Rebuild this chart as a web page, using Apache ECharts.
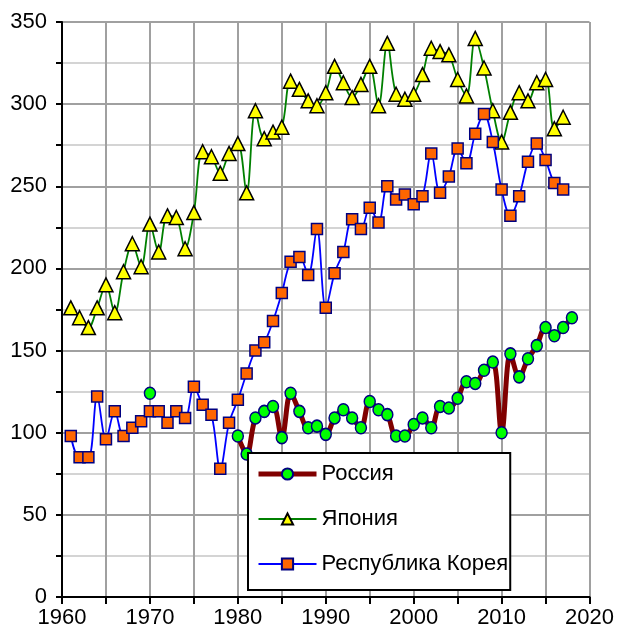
<!DOCTYPE html>
<html>
<head>
<meta charset="utf-8">
<script src="https://cdn.jsdelivr.net/npm/echarts@6/dist/echarts.min.js"></script>
<style>
html,body{margin:0;padding:0;background:#fff;}
#chart{width:617px;height:634px;}
</style>
</head>
<body>
<div id="chart"></div>
<script>
// Series names (legend order)
const seriesNames = ['Россия', 'Япония', 'Республика Корея'];

// Russia: 1970, gap 1971-1979, then 1980-2018
const russiaStartYear = 1970;
const russiaValues = [124, null, null, null, null, null, null, null, null, null,
  98, 87, 109, 113, 116, 97, 124, 113, 103, 104,
  99, 109, 114, 109, 103, 119, 114, 111, 98, 98,
  105, 109, 103, 116, 115, 121, 131, 130, 138, 143,
  100, 148, 134, 145, 153, 164, 159, 164, 170];

// Japan: 1961-2017
const japanStartYear = 1961;
const japanValues = [176, 170, 164, 176, 190, 173, 198, 215, 201,
  227, 210, 232, 231, 212, 234, 271, 268, 258, 270,
  276, 246, 296, 279, 283, 286, 314, 309, 302, 299,
  307, 323, 313, 304, 312, 323, 299, 337, 306, 303,
  306, 318, 334, 332, 330, 315, 305, 340, 322, 296,
  277, 295, 307, 302, 313, 315, 285, 292];

// Republic of Korea: 1961-2017
const koreaStartYear = 1961;
const koreaValues = [98, 85, 85, 122, 96, 113, 98, 103, 107,
  113, 113, 106, 113, 109, 128, 117, 111, 78, 106,
  120, 136, 150, 155, 168, 185, 204, 207, 196, 224,
  176, 197, 210, 230, 224, 237, 228, 250, 242, 245,
  239, 244, 270, 246, 256, 273, 264, 282, 294, 277,
  248, 232, 244, 265, 276, 266, 252, 248];

// Axis ranges / ticks
const xMin = 1960, xMax = 2020, xStep = 5, xLabelStep = 10;
const yMin = 0, yMax = 350, yStep = 25, yLabelStep = 50;

function toPairs(start, vals) {
  return vals.map((v, i) => [start + i, v === null ? '-' : v]);
}

const FONT = "'Liberation Sans', Arial, sans-serif";
const chart = echarts.init(document.getElementById('chart'), null, {renderer: 'canvas'});

const option = {
  animation: false,
  backgroundColor: '#ffffff',
  grid: {left: 62, right: 26, top: 22, bottom: 37, containLabel: false},
  legend: {
    orient: 'vertical',
    left: 248,
    top: 453,
    padding: [9, 2, 14, 8],
    itemGap: 21,
    itemWidth: 58,
    itemHeight: 14,
    backgroundColor: '#ffffff',
    borderColor: '#000000',
    borderWidth: 2,
    lineStyle: {width: 'inherit'},
    textStyle: {fontFamily: FONT, fontSize: 22, color: '#000', lineHeight: 24},
    data: seriesNames
  },
  xAxis: {
    type: 'value',
    min: xMin, max: xMax, interval: xStep,
    axisLine: {show: true, onZero: false, lineStyle: {color: '#000', width: 2}},
    axisTick: {show: true, inside: false, length: 7, lineStyle: {color: '#000', width: 2}},
    axisLabel: {
      fontFamily: FONT, fontSize: 22, color: '#000', margin: 10,
      formatter: v => (v % xLabelStep === 0 ? String(v) : '')
    },
    splitLine: {show: true, lineStyle: {color: '#a0a0a0', width: 2}}
  },
  yAxis: {
    type: 'value',
    min: yMin, max: yMax, interval: yStep,
    axisLine: {show: true, lineStyle: {color: '#000', width: 2}},
    axisTick: {show: true, inside: false, length: 6, lineStyle: {color: '#000', width: 2}},
    axisLabel: {
      fontFamily: FONT, fontSize: 22, color: '#000', margin: 15,
      formatter: v => (v % yLabelStep === 0 ? String(v) : '')
    },
    splitLine: {show: true, lineStyle: {color: ['#a0a0a0', '#d4d4d4'], width: 2}}
  },
  series: [
    {
      name: seriesNames[0], type: 'line', smooth: 0.35, connectNulls: false,
      data: toPairs(russiaStartYear, russiaValues),
      lineStyle: {color: '#800000', width: 5},
      symbol: 'circle', symbolSize: [11, 12],
      itemStyle: {color: '#00ff00', borderColor: '#000080', borderWidth: 1.5},
      z: 2
    },
    {
      name: seriesNames[1], type: 'line', smooth: 0.35,
      data: toPairs(japanStartYear, japanValues),
      lineStyle: {color: '#008000', width: 1.8},
      symbol: 'triangle', symbolSize: 14,
      itemStyle: {color: '#ffff00', borderColor: '#000000', borderWidth: 1.5},
      z: 3
    },
    {
      name: seriesNames[2], type: 'line', smooth: 0.35,
      data: toPairs(koreaStartYear, koreaValues),
      lineStyle: {color: '#0000ff', width: 1.8},
      symbol: 'rect', symbolSize: 11,
      itemStyle: {color: '#ff6600', borderColor: '#000080', borderWidth: 1.5},
      z: 4
    }
  ]
};
chart.setOption(option);
</script>
</body>
</html>
